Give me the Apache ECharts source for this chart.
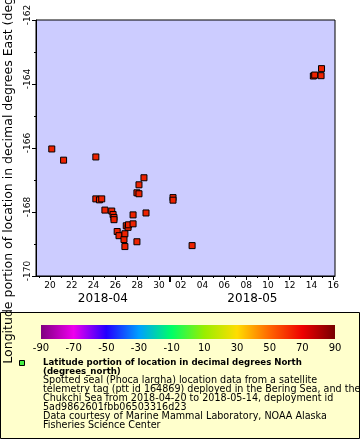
<!DOCTYPE html>
<html><head><meta charset="utf-8">
<script src="https://cdn.jsdelivr.net/npm/echarts@6/dist/echarts.min.js"></script>
<style>html,body{margin:0;padding:0;background:#fff}#c{width:360px;height:440px}</style>
</head><body><div id="c"></div>
<script>
// ---- data ----
const times = [
  '2018-04-20T04:00Z','2018-04-21T06:00Z','2018-04-24T05:00Z','2018-04-24T05:00Z','2018-04-24T13:00Z',
  '2018-04-24T18:00Z','2018-04-25T01:00Z','2018-04-25T16:00Z','2018-04-25T19:00Z','2018-04-25T21:00Z',
  '2018-04-25T21:00Z','2018-04-26T04:00Z','2018-04-26T08:00Z','2018-04-26T19:00Z','2018-04-26T21:00Z',
  '2018-04-26T21:00Z','2018-04-27T00:00Z','2018-04-27T04:00Z','2018-04-27T05:00Z','2018-04-27T15:00Z',
  '2018-04-27T15:00Z','2018-04-27T23:30Z','2018-04-27T23:30Z','2018-04-28T04:00Z','2018-04-28T04:00Z',
  '2018-04-28T15:00Z','2018-04-28T19:30Z','2018-05-01T07:00Z','2018-05-01T07:00Z','2018-05-03T01:00Z',
  '2018-05-14T04:00Z','2018-05-14T07:00Z','2018-05-14T21:00Z','2018-05-14T22:00Z'
];
const lons = [
  -166.03,-166.38,-166.28,-167.59,-167.62,
  -167.59,-167.94,-167.97,-168.08,-168.17,
  -168.24,-168.61,-168.74,-168.86,-169.08,
  -168.68,-168.43,-168.48,-168.40,-168.37,
  -168.09,-168.93,-167.40,-167.43,-167.15,
  -166.93,-168.03,-167.55,-167.63,-169.05,
  -163.75,-163.72,-163.74,-163.52
];
const xRange = ['2018-04-18T17:15Z','2018-05-16T03:40Z'];
const yRange = [-170, -162];
const monthBoundary = '2018-05-01T00:00Z';
const colorbarValues = [-90,-70,-50,-30,-10,10,30,50,70,90];
const colorbarColors = ['#800080','#ee00ee','#2200ff','#00a0ff','#00ff66','#99ee00','#ffdd00','#ff6600','#ee0000','#770000'];
const yTitle = 'Longitude portion of location in decimal degrees East (degrees_east)';
const legendTitle = ['Latitude portion of location in decimal degrees North', '(degrees_north)'];
const legendLines = [
  'Spotted seal (Phoca largha) location data from a satellite',
  'telemetry tag (ptt id 164869) deployed in the Bering Sea, and the',
  'Chukchi Sea from 2018-04-20 to 2018-05-14, deployment id',
  '5ad9862601fbb06503316d23',
  'Data courtesy of Marine Mammal Laboratory, NOAA Alaska',
  'Fisheries Science Center'
];

// ---- derived ----
const DAY = 86400000;
const xMin = Date.parse(xRange[0]), xMax = Date.parse(xRange[1]);
const mb = Date.parse(monthBoundary);
const allDays = [], evenDays = [];
for (let t = Math.ceil(xMin / DAY) * DAY; t <= xMax; t += DAY) {
  allDays.push(t);
  if (new Date(t).getUTCDate() % 2 === 0) evenDays.push(t);
}
const monthMids = [(xMin + mb) / 2, (mb + xMax) / 2];
const pts = times.map((t, i) => [Date.parse(t), lons[i]]);
const pad = n => (n < 10 ? '0' : '') + n;
const FONT = 'DejaVu Sans';

const chart = echarts.init(document.getElementById('c'), null, {renderer: 'canvas'});
const gridW = 299;
const cbLeft = 41, cbW = 294, cbTop = 325, cbH = 14;
const stops = colorbarValues.map((v, i) => ({offset: (v + 90) / 180, color: colorbarColors[i]}));

const textEls = [];
const lx = 43; let ly = 363.5; const lh = 8.9;
legendTitle.forEach(s => { textEls.push({type: 'text', left: lx, top: ly - 5, z: 5,
  style: {text: s, fill: '#000', font: 'bold 8.6px "DejaVu Sans"'}}); ly += lh; });
legendLines.forEach(s => { textEls.push({type: 'text', left: lx, top: ly - 5.5, z: 5,
  style: {text: s, fill: '#000', font: '9.6px "DejaVu Sans"'}}); ly += lh; });

chart.setOption({
  animation: false,
  backgroundColor: '#ffffff',
  textStyle: {fontFamily: FONT},
  grid: [
    {left: 36, top: 20, width: gridW, height: 256, show: true, backgroundColor: '#ccccff', borderColor: '#000', borderWidth: 1,
     containLabel: false, outerBoundsMode: 'none'},
    {left: cbLeft, top: cbTop, width: cbW, height: cbH, show: false, containLabel: false, outerBoundsMode: 'none'}
  ],
  xAxis: [
    {type: 'value', gridIndex: 0, position: 'bottom', offset: 0, min: xMin, max: xMax, splitLine: {show: false},
     axisLine: {lineStyle: {color: '#000'}},
     axisTick: {customValues: evenDays, length: 4, lineStyle: {color: '#000'}},
     axisLabel: {customValues: evenDays, color: '#000', fontSize: 9, margin: 5, fontFamily: FONT,
       formatter: v => pad(new Date(v).getUTCDate())}},
    {type: 'value', gridIndex: 0, position: 'bottom', offset: 0, min: xMin, max: xMax, splitLine: {show: false},
     axisLine: {show: false},
     axisTick: {customValues: allDays, length: 2, lineStyle: {color: '#000'}},
     axisLabel: {show: false}},
    {type: 'value', gridIndex: 0, position: 'bottom', offset: 0, min: xMin, max: xMax, splitLine: {show: false},
     axisLine: {show: false},
     axisTick: {customValues: [mb], length: 6, lineStyle: {color: '#000', width: 2}},
     axisLabel: {customValues: monthMids, color: '#000', fontSize: 12, margin: 17, fontFamily: FONT,
       formatter: v => { const d = new Date(v); return d.getUTCFullYear() + '-' + pad(d.getUTCMonth() + 1); }}},
    {type: 'value', gridIndex: 1, position: 'bottom', min: colorbarValues[0], max: colorbarValues[colorbarValues.length - 1], interval: 20,
     splitLine: {show: false}, axisLine: {show: false}, axisTick: {show: false},
     axisLabel: {color: '#000', fontSize: 10, margin: 4, fontFamily: FONT, showMinLabel: true, showMaxLabel: true}}
  ],
  yAxis: [
    {type: 'value', gridIndex: 0, position: 'left', min: yRange[0], max: yRange[1], interval: 2, splitLine: {show: false},
     axisLine: {show: true, lineStyle: {color: '#000'}},
     axisTick: {length: 4, lineStyle: {color: '#000'}},
     minorTick: {show: true, splitNumber: 2, length: 2, lineStyle: {color: '#000'}},
     axisLabel: {rotate: 90, color: '#000', fontSize: 9, margin: 4, fontFamily: FONT, padding: [0, 0, 0, 10]},
     name: yTitle, nameLocation: 'middle', nameGap: 18,
     nameTextStyle: {color: '#000', fontSize: 12.5, fontFamily: FONT}},
    {type: 'value', gridIndex: 1, min: 0, max: 1, show: false}
  ],
  graphic: [
    {type: 'rect', left: 0, top: 312, z: -10, shape: {width: 359, height: 126},
     style: {fill: '#ffffcc', stroke: '#000', lineWidth: 1}},
    {type: 'rect', left: cbLeft, top: cbTop, z: 1, shape: {width: cbW, height: cbH},
     style: {fill: new echarts.graphic.LinearGradient(0, 0, 1, 0, stops)}},
    {type: 'rect', left: 19, top: 360, z: 5, shape: {width: 5, height: 5},
     style: {fill: '#44ee44', stroke: '#000', lineWidth: 1}},
    ...textEls
  ],
  series: [
    {type: 'scatter', xAxisIndex: 0, yAxisIndex: 0, data: pts, symbol: 'rect', symbolSize: 6,
     itemStyle: {color: '#ee2200', borderColor: '#000', borderWidth: 1, opacity: 1}},
    {type: 'scatter', xAxisIndex: 3, yAxisIndex: 1, data: [], silent: true}
  ]
});
</script></body></html>
